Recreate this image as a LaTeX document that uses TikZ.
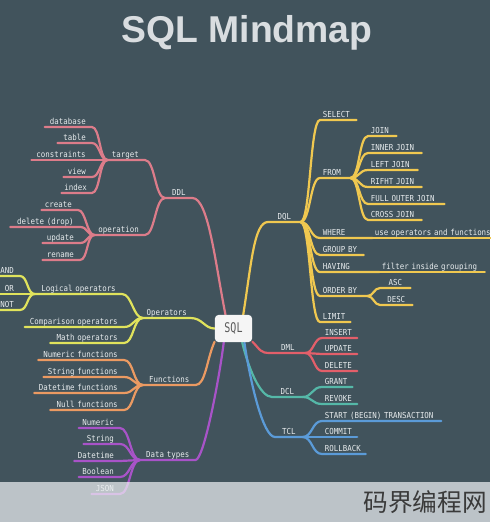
\documentclass[tikz,border=0pt]{standalone}
\usepackage{fontspec}
\newfontfamily\lblfont[FakeStretch=0.9]{DejaVu Sans Mono}
\newfontfamily\sqlfont[FakeStretch=0.75]{DejaVu Sans Mono}
\newfontfamily\titlefont{Liberation Sans}
\newfontfamily\cjkfont{Noto Sans CJK SC}
\pgfdeclarelayer{background}
\pgfdeclarelayer{lines}
\pgfdeclarelayer{front}
\pgfsetlayers{background,lines,main,front}
\definecolor{bgc}{HTML}{41535C}
\definecolor{txt}{HTML}{E8ECEE}
\definecolor{titlec}{HTML}{D9DDE0}
\definecolor{cDDL}{HTML}{DC7C8A}
\definecolor{cDQL}{HTML}{F0C850}
\definecolor{cDML}{HTML}{E35F6A}
\definecolor{cDCL}{HTML}{55B8A8}
\definecolor{cTCL}{HTML}{5B9BD8}
\definecolor{cOPS}{HTML}{E0E35C}
\definecolor{cFUN}{HTML}{EB9A62}
\definecolor{cDTY}{HTML}{A853C8}
\definecolor{bandc}{HTML}{ECEFF2}
\definecolor{wmc}{HTML}{3A3A3A}
\definecolor{sqltext}{HTML}{5A5A5A}
\tikzset{
  lb/.style={font=\lblfont\fontsize{6.2}{7}\selectfont, text=txt, inner xsep=2pt,
    inner ysep=2pt, text depth=0pt, text width=#1pt},
  rn/.style={lb=#1, anchor=south west, align=left},
  cn/.style={lb=#1, anchor=south west, align=center},
  ln/.style={lb=#1, anchor=south east, align=right, execute at end node={\kern2.5pt}},
  sc/.style={to path={.. controls +(#1,0) and +(-#1,0) .. (\tikztotarget) \tikztonodes}},
  sc/.default=10,
  br/.style={line width=1.65pt, line cap=round, line join=round, draw=#1},
}
\begin{document}
\begin{tikzpicture}[x=0.75pt, y=0.75pt]
\useasboundingbox (0,0) rectangle (490,-522);
\begin{pgfonlayer}{background}
  \fill[bgc] (0,0) rectangle (490,-522);
\end{pgfonlayer}

% title
\node[font=\titlefont\bfseries\fontsize{28}{30}\selectfont, text=titlec] (title) at (247,-33) {SQL Mindmap};

% central node
\node[fill=white!96!black, rounded corners=3pt, minimum width=28pt, minimum height=20.5pt,
  inner sep=0pt, font=\sqlfont\fontsize{10}{12}\selectfont, text=sqltext] (sql) at (233.5,-328.5) {SQL};

% ---------- right side ----------
\node[cn=20] (dql) at (268,-222) {DQL};
\node[rn=23] (select) at (320,-120) {SELECT};
\node[rn=18.5] (from) at (320,-178) {FROM};
\node[rn=17] (join) at (368,-136) {JOIN};
\node[rn=36] (innerj) at (368,-153) {INNER JOIN};
\node[rn=33] (leftj) at (368,-170) {LEFT JOIN};
\node[rn=36] (rifht) at (368,-187) {RIFHT JOIN};
\node[rn=53] (fullj) at (368,-204) {FULL OUTER JOIN};
\node[rn=36] (crossj) at (368,-220) {CROSS JOIN};
\node[rn=35] (where) at (320,-238) {WHERE};
\node[rn=90] (useop) at (372,-238) {use operators and functions};
\node[rn=28.5] (groupby) at (320,-255) {GROUP BY};
\node[rn=40.25] (having) at (320,-272) {HAVING};
\node[rn=75] (filter) at (379,-272) {filter inside grouping};
\node[rn=31.25] (orderby) at (320,-296) {ORDER BY};
\node[cn=18.5] (asc) at (380,-288) {ASC};
\node[cn=20] (desc) at (380,-305) {DESC};
\node[rn=18.5] (limit) at (320,-322) {LIMIT};

\node[cn=22.25] (dml) at (270,-353) {DML};
\node[rn=22] (insert) at (322,-338) {INSERT};
\node[rn=22] (update) at (322,-354) {UPDATE};
\node[rn=22] (delete) at (322,-371) {DELETE};

\node[cn=18.5] (dcl) at (272,-397) {DCL};
\node[rn=18.5] (grant) at (322,-387) {GRANT};
\node[rn=22] (revoke) at (322,-404) {REVOKE};

\node[cn=16.25] (tcl) at (275,-437) {TCL};
\node[rn=85] (start) at (322,-421) {START (BEGIN) TRANSACTION};
\node[rn=22] (commit) at (322,-437) {COMMIT};
\node[rn=28.5] (rollback) at (322,-454) {ROLLBACK};

% ---------- left side ----------
\node[cn=16.25] (ddl) at (165,-198) {DDL};
\node[ln=23.75] (target) at (145,-160) {target};
\node[ln=33.5] (operation) at (145,-235) {operation};
\node[ln=31] (database) at (92,-127) {database};
\node[ln=21.5] (table) at (92,-143) {table};
\node[ln=41] (constraints) at (92,-160) {constraints};
\node[ln=17] (view) at (92,-177) {view};
\node[ln=18.5] (index) at (92,-193) {index};
\node[ln=23] (create) at (78,-210) {create};
\node[ln=48] (deldrop) at (80,-227) {delete (drop)};
\node[ln=23.75] (updt) at (80,-243) {update};
\node[ln=23.75] (rename) at (80,-260) {rename};

\node[cn=31.25] (operators) at (143,-318) {Operators};
\node[ln=61] (logical) at (122,-294) {Logical operators};
\node[ln=14.75] (andn) at (20,-276) {AND};
\node[ln=14.75] (orn) at (20,-294) {OR};
\node[ln=14.75] (notn) at (20,-310) {NOT};
\node[ln=70] (comparison) at (124,-327) {Comparison operators};
\node[ln=51] (math) at (124,-343) {Math operators};

\node[cn=35] (functions) at (143,-385) {Functions};
\node[ln=60] (numf) at (124,-360) {Numeric functions};
\node[ln=56] (strf) at (124,-377) {String functions};
\node[ln=63] (datef) at (124,-393) {Datetime functions};
\node[ln=51] (nullf) at (124,-410) {Null functions};

\node[cn=37.25] (datatypes) at (140,-460) {Data types};
\node[ln=26.5] (dnum) at (120,-428) {Numeric};
\node[ln=23] (dstr) at (120,-444) {String};
\node[ln=30] (ddate) at (120,-461) {Datetime};
\node[ln=26.5] (dbool) at (120,-477) {Boolean};
\node[ln=17] (json) at (120,-494) {JSON};

% ---------- connectors ----------
\begin{pgfonlayer}{lines}
  % DQL
  \draw[br=cDQL] (sql.55) .. controls +(8,50) and +(-14,0) .. (dql.south west) -- (dql.south east);
  \foreach \c in {select,from,where,groupby,having,orderby,limit}
    \draw[br=cDQL] (dql.south east) to[sc] (\c.south west) -- (\c.south east);
  \foreach \c in {join,innerj,leftj,rifht,fullj,crossj}
    \draw[br=cDQL] (from.south east) to[sc=9] (\c.south west) -- (\c.south east);
  \draw[br=cDQL] (where.south east) -- (useop.south west) -- (useop.south east);
  \draw[br=cDQL] (having.south east) -- (filter.south west) -- (filter.south east);
  \foreach \c in {asc,desc}
    \draw[br=cDQL] (orderby.south east) to[sc=6] (\c.south west) -- (\c.south east);
  % DML
  \draw[br=cDML] (sql.-35) .. controls +(8,-8) and +(-10,0) .. (dml.south west) -- (dml.south east);
  \foreach \c in {insert,update,delete}
    \draw[br=cDML] (dml.south east) to[sc=8] (\c.south west) -- (\c.south east);
  % DCL
  \draw[br=cDCL] (sql.-58) .. controls +(6,-25) and +(-12,0) .. (dcl.south west) -- (dcl.south east);
  \foreach \c in {grant,revoke}
    \draw[br=cDCL] (dcl.south east) to[sc] (\c.south west) -- (\c.south east);
  % TCL
  \draw[br=cTCL] (sql.-52) .. controls +(6,-40) and +(-12,0) .. (tcl.south west) -- (tcl.south east);
  \foreach \c in {start,commit,rollback}
    \draw[br=cTCL] (tcl.south east) to[sc] (\c.south west) -- (\c.south east);
  % DDL
  \draw[br=cDDL] (ddl.south west) -- (ddl.south east) .. controls +(16,0) and +(-10,50) .. (sql.120);
  \foreach \c in {target,operation}
    \draw[br=cDDL] (\c.south west) -- (\c.south east) to[sc] (ddl.south west);
  \foreach \c in {database,table,constraints,view,index}
    \draw[br=cDDL] (\c.south west) -- (\c.south east) to[sc=8] (target.south west);
  \foreach \c in {create,deldrop,updt,rename}
    \draw[br=cDDL] (\c.south west) -- (\c.south east) to[sc=8] (operation.south west);
  % Operators
  \draw[br=cOPS] (operators.south west) -- (operators.south east) .. controls +(12,0) and +(-10,0) .. (sql.west);
  \foreach \c in {logical,comparison,math}
    \draw[br=cOPS] (\c.south west) -- (\c.south east) to[sc] (operators.south west);
  \foreach \c in {andn,orn,notn}
    \draw[br=cOPS] (\c.south west) -- (\c.south east) to[sc=8] (logical.south west);
  % Functions
  \draw[br=cFUN] (functions.south west) -- (functions.south east) .. controls +(10,0) and +(-8,-18) .. (sql.215);
  \foreach \c in {numf,strf,datef,nullf}
    \draw[br=cFUN] (\c.south west) -- (\c.south east) to[sc] (functions.south west);
  % Data types
  \draw[br=cDTY] (datatypes.south west) -- (datatypes.south east) .. controls +(8,0) and +(-5,-40) .. (sql.235);
  \foreach \c in {dnum,dstr,ddate,dbool,json}
    \draw[br=cDTY] (\c.south west) -- (\c.south east) to[sc] (datatypes.south west);
\end{pgfonlayer}

% ---------- bottom band ----------
\begin{pgfonlayer}{front}
  \fill[bandc, opacity=0.72] (0,-482) rectangle (490,-522);
  \node[font=\cjkfont\fontsize{18.5}{20}\selectfont, text=wmc] (wm) at (425,-502) {码界编程网};
\end{pgfonlayer}
\end{tikzpicture}
\end{document}
